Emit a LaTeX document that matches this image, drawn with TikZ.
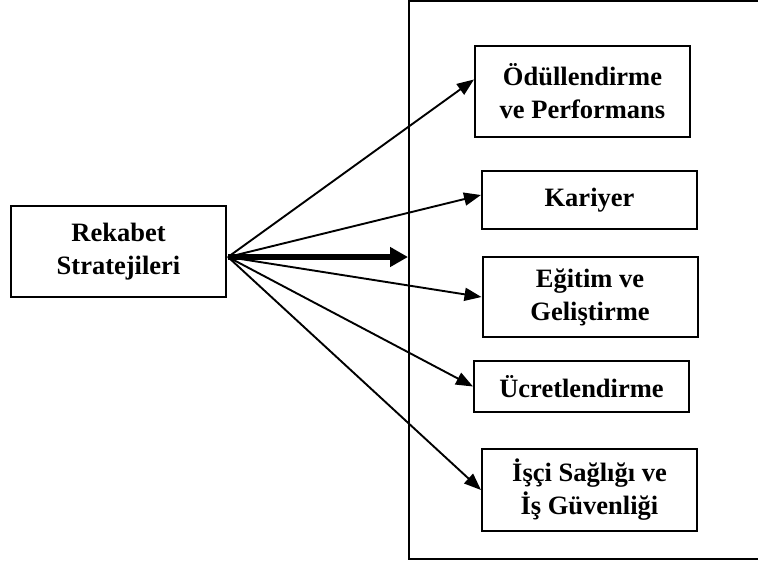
\documentclass[tikz,border=0pt]{standalone}
\usepackage{fontspec}
\setmainfont{Liberation Serif}
\usetikzlibrary{arrows.meta,positioning}

\begin{document}
\begin{tikzpicture}[x=1pt,y=-1pt,
  >={Triangle[length=17pt,width=13pt]},
  box/.style={draw,line width=2pt,align=center,inner sep=0pt,
    minimum width=215pt,font=\fontsize{26.5}{33}\selectfont\bfseries},
  link/.style={->,line width=1.9pt},
  mainlink/.style={-{Triangle[length=18pt,width=19pt]},line width=6.5pt}]
  \useasboundingbox (0,0) rectangle (758,562);
  % outer frame, cut off at the right page edge
  \node[draw,line width=2pt,minimum width=400pt,minimum height=558pt,
        inner sep=0pt] (frame) at (609,280) {};
  \node[box,minimum height=91pt] (src) at (118.5,251.5) {Rekabet\\Stratejileri};
  \node[box,minimum height=91pt] (odul) at (582.5,91.5) {Ödüllendirme\\ve Performans};
  \node[box,minimum height=58pt] (kariyer) at (589.5,200) {Kariyer};
  \node[box,minimum height=80pt] (egitim) at (590,297) {Eğitim ve\\Geliştirme};
  \node[box,minimum height=51pt] (ucret) at (581.5,386.5) {Ücretlendirme};
  \node[box,minimum height=82pt] (isci) at (589.5,490) {İşçi Sağlığı ve\\İş Güvenliği};
  \coordinate (hub) at (228,257);
  \draw[mainlink] (hub) -- (hub -| frame.west);
  \draw[link] (hub) -- ([yshift=12pt]odul.west);
  \draw[link] (hub) -- ([yshift=5pt]kariyer.west);
  \draw[link] (hub) -- (egitim.west);
  \draw[link] (hub) -- (ucret.west);
  \draw[link] (hub) -- (isci.west);
\end{tikzpicture}
\end{document}
